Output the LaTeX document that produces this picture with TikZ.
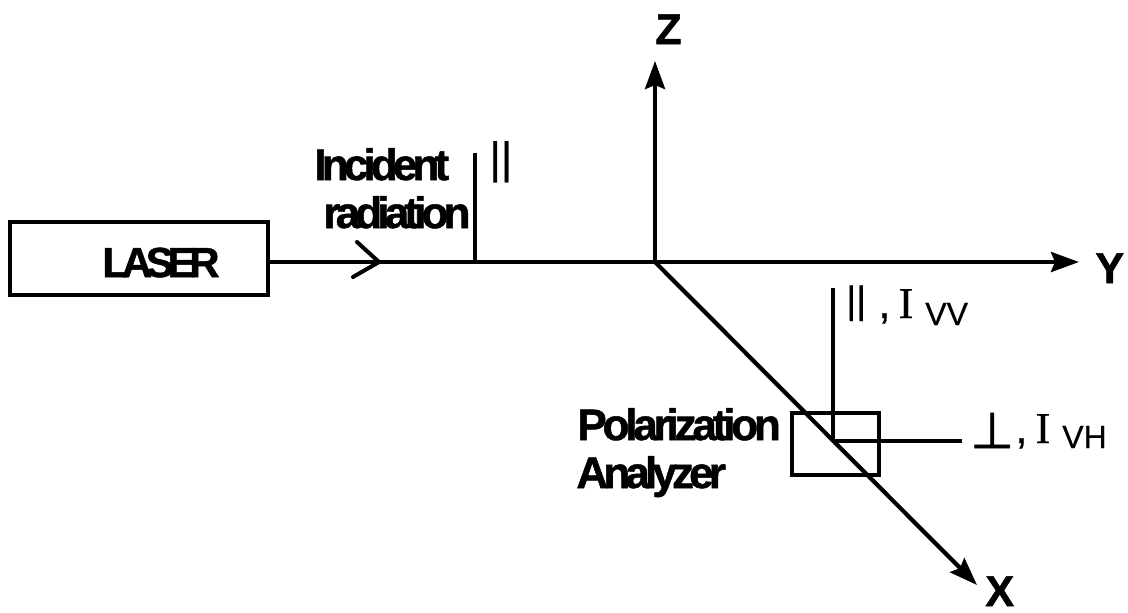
\documentclass[tikz,border=0pt]{standalone}
\usepackage{fontspec}
\setmainfont{Liberation Sans}
\newfontfamily\serifpart[FakeBold=0.6]{Liberation Serif}
\newfontfamily\symbolpart[FakeBold=1.5]{DejaVu Sans}
\newfontfamily\sanspart[FakeBold=0.5]{Liberation Sans}
\newfontfamily\boldletter[FakeBold=1.2]{Liberation Sans}
\newfontfamily\tightfont[LetterSpace=-11,FakeBold=1.2]{Liberation Sans}
\newfontfamily\polarfont[LetterSpace=-9.5,FakeBold=1.2]{Liberation Sans}
\newfontfamily\tighterfont[LetterSpace=-15,FakeBold=1.2]{Liberation Sans}
\usetikzlibrary{arrows.meta, positioning, calc}
\tikzset{
  axis/.style={-{Stealth[length=14pt,width=10pt,inset=2pt]}, line width=2.1pt, color=black},
  beam/.style={line width=2pt, color=black},
  boxnode/.style={rectangle, draw=black, fill=none, line width=1.9pt, inner sep=0pt},
  lettertext/.style={inner sep=0pt, anchor=base west, font=\fontsize{21.5}{24}\selectfont\boldletter\bfseries},
  tighttext/.style={inner sep=0pt, anchor=base west, font=\fontsize{22}{24}\selectfont\tightfont\bfseries},
  signaltext/.style={inner sep=0pt, anchor=base west, font=\fontsize{22}{24}\selectfont\sanspart}
}
\begin{document}
\begin{tikzpicture}[x=0.5pt, y=-0.5pt]
  \useasboundingbox (0,0) rectangle (1128,612);

  % Axes
  \coordinate (origin) at (655,262);
  \coordinate (ztip) at (655,61);
  \coordinate (ytip) at (1079,262);
  \coordinate (xtip) at (977,585);
  \node[lettertext] (zlabel) at (655,44) {Z};
  \node[lettertext] (ylabel) at (1095,283) {Y};
  \node[lettertext] (xlabel) at (985,606) {X};

  % Laser and incident beam
  \node[boxnode, minimum width=129pt, minimum height=36.5pt] (laser) at (139,258.5) {};
  \node[inner sep=0pt, anchor=base west, font=\fontsize{21}{24}\selectfont\tighterfont\bfseries] (lasertext) at (102,277) {LASER};
  \draw[axis] (laser.east |- origin) -- (ytip);
  \draw[axis] (origin) -- (ztip);
  \draw[axis] (origin) -- (xtip);
  \coordinate (beamhead) at (379,262);
  \draw[beam, line cap=round] (357,242) -- (beamhead) -- (353,277);

  % Incident polarization
  \coordinate (incfoot) at (475,262);
  \coordinate (inctop) at (475,153);
  \draw[beam] (incfoot) -- (inctop);
  \node[tighttext] (incident) at (314,180) {Incident};
  \node[tighttext] (radiation) at (323,228) {radiation};
  \node[signaltext] (incbars) at (489,173) {||};

  % Analyzer
  \node[boxnode, minimum width=43.5pt, minimum height=31pt] (analyzer) at (835.5,444) {};
  \coordinate (focus) at (833,441);
  \coordinate (vvtop) at (833,288);
  \coordinate (vhend) at (962,441);
  \draw[beam] (focus) -- (vvtop);
  \draw[beam] (focus) -- (vhend);
  \node[tighttext, font=\fontsize{22}{24}\selectfont\polarfont\bfseries] (polar) at (577,440) {Polarization};
  \node[tighttext] (analyz) at (576,488) {Analyzer};

  % Detected signals
  \node[signaltext, font=\fontsize{19}{24}\selectfont\sanspart] (vvbars) at (846,313) {||};
  \node[signaltext] (vvlabel) at (878,318) {,\hspace{4pt}{\serifpart I}\hspace{6pt}\raisebox{-3.5pt}{\fontsize{16}{18}\selectfont VV}};
  \node[signaltext, font=\fontsize{25}{28}\selectfont\symbolpart] (vhbar) at (970,448) {⊥};
  \node[signaltext] (vhlabel) at (1015,443) {,\hspace{4pt}{\serifpart I}\hspace{6pt}\raisebox{-2.5pt}{\fontsize{16}{18}\selectfont VH}};
\end{tikzpicture}
\end{document}
